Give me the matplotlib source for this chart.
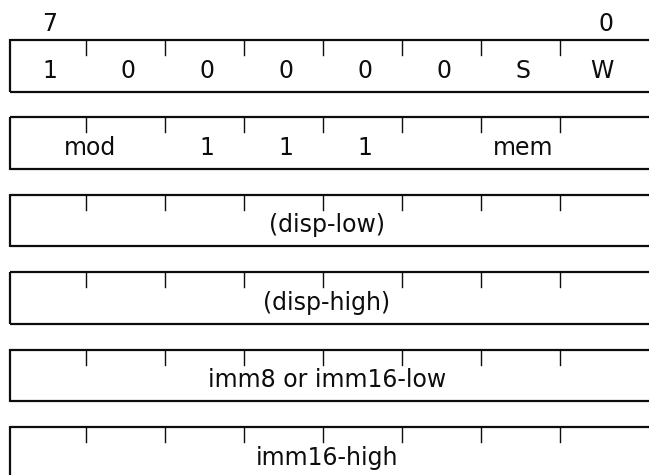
import numpy as np
import matplotlib
matplotlib.use("Agg")
from matplotlib import pyplot as plt

# bit numbers printed above the first byte
top_bits = ["7", "0"]

# each row: labels of the fields and how many bits each field covers
row_labels = [
    ["1", "0", "0", "0", "0", "0", "S", "W"],
    ["mod", "1", "1", "1", "mem"],
    ["(disp-low)"],
    ["(disp-high)"],
    ["imm8 or imm16-low"],
    ["imm16-high"],
]
row_spans = [
    [1, 1, 1, 1, 1, 1, 1, 1],
    [2, 1, 1, 1, 3],
    [8],
    [8],
    [8],
    [8],
]

# layout (pixels)
W, H = 649, 475
left = 9.5
bit_w = 79.1
first_tick = 85.5
row_top0 = 40.0
row_pitch = 77.4
row_h = 51.5
tick_len = 15
baseline_off = 37.5

edges = [left] + [first_tick + bit_w * k for k in range(8)]

fig = plt.figure(figsize=(W / 100, H / 100), dpi=100)
ax = fig.add_axes([0, 0, 1, 1])
ax.set_xlim(0, W)
ax.set_ylim(H, 0)
ax.axis("off")

ink = "#0d0d0d"
fs = 17

for i, (labels, spans) in enumerate(zip(row_labels, row_spans)):
    top = row_top0 + i * row_pitch
    bot = top + row_h
    # box: top, bottom, left side (right side runs off the page)
    ax.plot([left, W + 5], [top, top], color=ink, lw=1.6, solid_capstyle="butt")
    ax.plot([left, W + 5], [bot, bot], color=ink, lw=1.6, solid_capstyle="butt")
    ax.plot([left, left], [top - 0.6, bot + 0.6], color=ink, lw=1.6, solid_capstyle="butt")
    # small ticks between bits
    for x in edges[1:8]:
        ax.plot([x, x], [top, top + tick_len], color=ink, lw=1.0)
    # field labels
    b = 0
    for lab, s in zip(labels, spans):
        cx = (edges[b] + edges[b + s]) / 2 + 2.5
        ax.text(cx, top + baseline_off, lab, ha="center", va="baseline",
                fontsize=fs, color=ink, family="DejaVu Sans")
        b += s

# bit numbers over the first row
ax.text((edges[0] + edges[1]) / 2 + 2.5, 31, top_bits[0], ha="center",
        va="baseline", fontsize=fs, color=ink)
ax.text((edges[7] + edges[8]) / 2 + 6, 31, top_bits[1], ha="center",
        va="baseline", fontsize=fs, color=ink)

fig.savefig("out.png", dpi=100, facecolor="white")
